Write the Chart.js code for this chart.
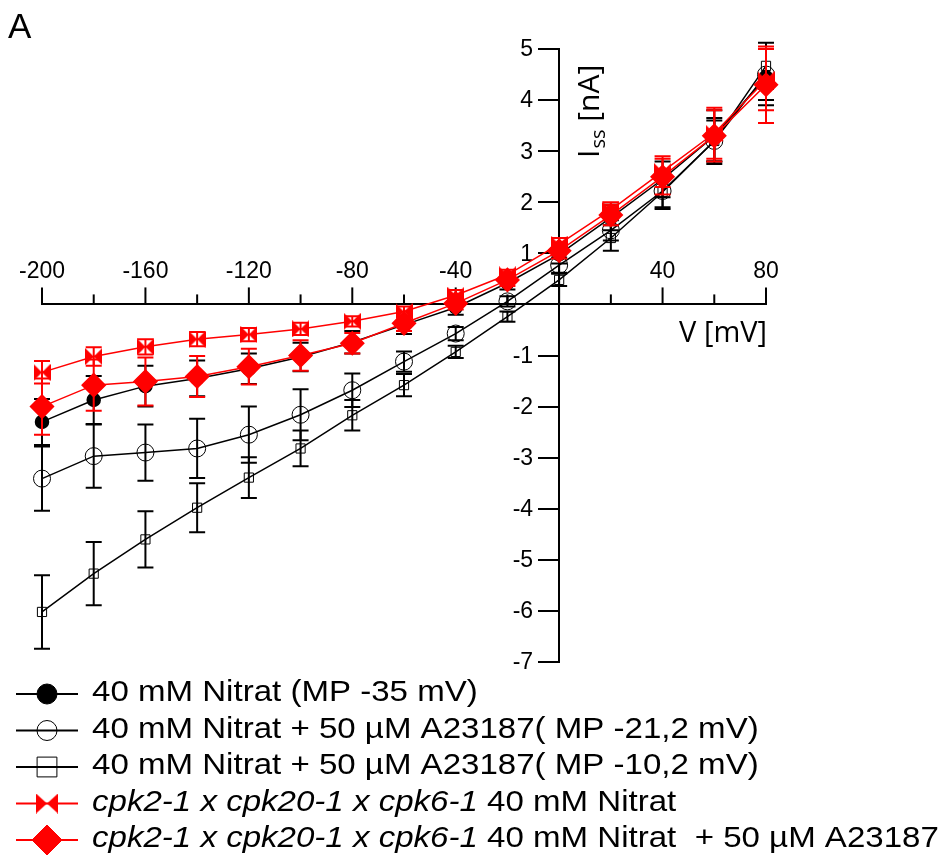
<!DOCTYPE html>
<html>
<head>
<meta charset="utf-8">
<title>Iss - V</title>
<script src="https://cdn.jsdelivr.net/npm/chart.js@4.4.0/dist/chart.umd.min.js"></script>
<style>
  html, body { margin: 0; padding: 0; background: #fff; }
</style>
</head>
<body>
<canvas id="ivChart" width="942" height="861"></canvas>
<script>
// membrane voltage steps [mV]
var voltages = [-200, -180, -160, -140, -120, -100, -80, -60, -40, -20, 0, 20, 40, 60, 80];

// steady state currents [nA] and their error
var nitrat       = [-2.3, -1.87, -1.6, -1.45, -1.26, -1.03, -0.74, -0.4, -0.06, 0.42, 0.98, 1.7, 2.45, 3.3, 4.45];
var nitratErr    = [0.45, 0.47, 0.4, 0.35, 0.3, 0.28, 0.22, 0.18, 0.14, 0.13, 0.18, 0.25, 0.35, 0.5, 0.55];
var nitratA21    = [-3.41, -2.97, -2.9, -2.82, -2.55, -2.16, -1.68, -1.12, -0.57, 0.06, 0.77, 1.45, 2.22, 3.2, 4.5];
var nitratA21Err = [0.63, 0.62, 0.55, 0.58, 0.55, 0.5, 0.33, 0.2, 0.13, 0.1, 0.15, 0.2, 0.35, 0.45, 0.5];
var nitratA10    = [-6.02, -5.27, -4.6, -3.98, -3.39, -2.82, -2.17, -1.58, -0.93, -0.24, 0.48, 1.3, 2.2, 3.2, 4.67];
var nitratA10Err = [0.72, 0.62, 0.55, 0.48, 0.4, 0.35, 0.3, 0.22, 0.12, 0.1, 0.12, 0.25, 0.3, 0.4, 0.45];
var cpk          = [-1.33, -1.02, -0.83, -0.68, -0.59, -0.48, -0.33, -0.14, 0.18, 0.58, 1.18, 1.85, 2.6, 3.35, 4.4];
var cpkErr       = [0.22, 0.18, 0.15, 0.14, 0.13, 0.12, 0.1, 0.1, 0.1, 0.1, 0.12, 0.15, 0.3, 0.5, 0.6];
var cpkA         = [-2.0, -1.58, -1.51, -1.41, -1.22, -1.0, -0.76, -0.37, 0.02, 0.48, 1.05, 1.75, 2.5, 3.3, 4.3];
var cpkAErr      = [0.55, 0.5, 0.47, 0.4, 0.35, 0.3, 0.2, 0.15, 0.12, 0.12, 0.15, 0.2, 0.35, 0.5, 0.75];

// labelled ticks
var xTickLabels = [-200, -160, -120, -80, -40, 40, 80];
var yTickLabels = [-7, -6, -5, -4, -3, -2, -1, 1, 2, 3, 4, 5];

var legendRows = [
  { it: '', txt: '40 mM Nitrat (MP -35 mV)' },
  { it: '', txt: '40 mM Nitrat + 50 \u00b5M A23187( MP -21,2 mV)' },
  { it: '', txt: '40 mM Nitrat + 50 \u00b5M A23187( MP -10,2 mV)' },
  { it: 'cpk2-1 x cpk20-1 x cpk6-1', txt: ' 40 mM Nitrat' },
  { it: 'cpk2-1 x cpk20-1 x cpk6-1', txt: ' 40 mM Nitrat  + 50 \u00b5M A23187' }
];

function pts(ys) {
  return voltages.map(function (v, i) { return { x: v, y: ys[i] }; });
}

function bowtie(w, h, color) {
  var c = document.createElement('canvas');
  c.width = w; c.height = h;
  var g = c.getContext('2d');
  g.fillStyle = color;
  g.beginPath();
  g.moveTo(0, 0); g.lineTo(w / 2, h / 2); g.lineTo(0, h); g.closePath();
  g.moveTo(w, 0); g.lineTo(w / 2, h / 2); g.lineTo(w, h); g.closePath();
  g.fill();
  return c;
}

var red = '#ff0000';
var bowPlot = bowtie(17, 17, red);
var bowLegend = bowtie(22, 20, red);

var datasets = [
  { data: pts(nitrat), errors: nitratErr, borderColor: '#000', backgroundColor: '#000',
    pointStyle: 'circle', pointRadius: 6.5, pointBackgroundColor: '#000', order: 2,
    legendMarker: { pointStyle: 'circle', radius: 10, fill: '#000' } },
  { data: pts(nitratA21), errors: nitratA21Err, borderColor: '#000', backgroundColor: 'rgba(0,0,0,0)',
    pointStyle: 'circle', pointRadius: 8.5, pointBorderWidth: 1, order: 3,
    legendMarker: { pointStyle: 'circle', radius: 10, fill: 'rgba(0,0,0,0)' } },
  { data: pts(nitratA10), errors: nitratA10Err, borderColor: '#000', backgroundColor: 'rgba(0,0,0,0)',
    pointStyle: 'rect', pointRadius: 6.5, pointBorderWidth: 1, order: 4,
    legendMarker: { pointStyle: 'rect', radius: 14, fill: 'rgba(0,0,0,0)' } },
  { data: pts(cpk), errors: cpkErr, borderColor: red, backgroundColor: red,
    pointStyle: bowPlot, pointRadius: 8, order: 1,
    legendMarker: { pointStyle: bowLegend, radius: 10, fill: red } },
  { data: pts(cpkA), errors: cpkAErr, borderColor: red, backgroundColor: red,
    pointStyle: 'rectRot', pointRadius: 11.5, order: 0,
    legendMarker: { pointStyle: 'rectRot', radius: 15, fill: red } }
];
datasets.forEach(function (d) {
  d.borderWidth = 1.5;
  d.tension = 0;
  d.fill = false;
  d.clip = false;
  d.pointHoverRadius = d.pointRadius;
});

var errorBars = {
  id: 'errorBars',
  beforeDatasetDraw: function (chart, args) {
    var ds = chart.data.datasets[args.index];
    var xs = chart.scales.x, ys = chart.scales.y, ctx = chart.ctx;
    ctx.save();
    ctx.strokeStyle = ds.borderColor;
    ctx.lineWidth = 2;
    ds.data.forEach(function (p, i) {
      var px = xs.getPixelForValue(p.x);
      var t = ys.getPixelForValue(p.y + ds.errors[i]);
      var b = ys.getPixelForValue(p.y - ds.errors[i]);
      ctx.beginPath();
      ctx.moveTo(px, t); ctx.lineTo(px, b);
      ctx.moveTo(px - 8, t); ctx.lineTo(px + 8, t);
      ctx.moveTo(px - 8, b); ctx.lineTo(px + 8, b);
      ctx.stroke();
    });
    ctx.restore();
  }
};

// stretched text, the original lettering is wider than Arial
function wideText(ctx, s, x, y, sx) {
  ctx.save();
  ctx.translate(x, y);
  ctx.scale(sx, 1);
  ctx.fillText(s, 0, 0);
  ctx.restore();
  return ctx.measureText(s).width * sx;
}

var axisDecor = {
  id: 'axisDecor',
  beforeDatasetsDraw: function (chart) {
    var xs = chart.scales.x, ys = chart.scales.y, ctx = chart.ctx;
    var y0 = ys.getPixelForValue(0);
    var x0 = xs.getPixelForValue(0);
    ctx.save();
    ctx.strokeStyle = '#000';
    ctx.lineWidth = 2;
    // x tick marks point up from the axis, labelled ones longer
    xs.ticks.forEach(function (t) {
      var px = xs.getPixelForValue(t.value);
      var len = xTickLabels.indexOf(t.value) >= 0 || t.value === 0 ? 17 : 10;
      ctx.beginPath(); ctx.moveTo(px, y0); ctx.lineTo(px, y0 - len); ctx.stroke();
    });
    // y labels left of the tick marks
    ctx.fillStyle = '#000';
    ctx.font = '23px "Liberation Sans", Arial, sans-serif';
    ctx.textAlign = 'right';
    ctx.textBaseline = 'middle';
    yTickLabels.forEach(function (v) {
      ctx.fillText(String(v), x0 - 26, ys.getPixelForValue(v) + 1);
    });
    ctx.restore();
  },
  afterDraw: function (chart) {
    var ctx = chart.ctx;
    ctx.save();
    ctx.fillStyle = '#000';
    ctx.textBaseline = 'alphabetic';
    ctx.font = '35px "Liberation Sans", Arial, sans-serif';
    ctx.fillText('A', 8, 38);

    ctx.font = '29px "Open Sans", sans-serif';
    ctx.textAlign = 'right';
    ctx.fillText('V [mV]', 767, 342);

    // I_ss [nA], rotated
    ctx.translate(599, 158);
    ctx.rotate(-Math.PI / 2);
    ctx.textAlign = 'left';
    ctx.font = '30px "Open Sans", sans-serif';
    ctx.fillText('I', 0, 0);
    var w = ctx.measureText('I').width;
    ctx.font = '20px "Open Sans", sans-serif';
    ctx.fillText('ss', w + 1, 6);
    w += ctx.measureText('ss').width + 1;
    ctx.font = '30px "Open Sans", sans-serif';
    ctx.fillText(' [nA]', w, 0);
    ctx.restore();

    // legend
    ctx.save();
    var rowY = 694, step = 36.5, sx = 1.102;
    chart.data.datasets.forEach(function (ds, i) {
      var y = rowY + i * step;
      var m = ds.legendMarker;
      ctx.strokeStyle = ds.borderColor;
      ctx.lineWidth = 2;
      ctx.beginPath(); ctx.moveTo(16, y); ctx.lineTo(78, y); ctx.stroke();
      ctx.fillStyle = m.fill;
      ctx.lineWidth = 1;
      Chart.helpers.drawPoint(ctx, { pointStyle: m.pointStyle, radius: m.radius, borderWidth: 1, rotation: 0 }, 47, y);
      ctx.fillStyle = '#000';
      ctx.textAlign = 'left';
      ctx.textBaseline = 'middle';
      var x = 92;
      var row = legendRows[i];
      if (row.it) {
        ctx.font = 'italic 30px "Liberation Sans", Arial, sans-serif';
        x += wideText(ctx, row.it, x, y - 1, sx);
      }
      ctx.font = '30px "Liberation Sans", Arial, sans-serif';
      wideText(ctx, row.txt, x, y - 1, sx);
    });
    ctx.restore();
  }
};

var ctx = document.getElementById('ivChart').getContext('2d');
var ivChart = new Chart(ctx, {
  type: 'line',
  data: { datasets: datasets },
  plugins: [errorBars, axisDecor],
  options: {
    responsive: false,
    animation: false,
    layout: { padding: { left: 42, right: 176, top: 49, bottom: 199 } },
    plugins: { legend: { display: false }, tooltip: { enabled: false } },
    scales: {
      x: {
        type: 'linear',
        min: -200, max: 80,
        position: { y: 0 },
        afterFit: function (s) { s.height = 0; },
        grid: { drawOnChartArea: false, drawTicks: false },
        border: { color: '#000', width: 2 },
        ticks: {
          stepSize: 20, autoSkip: false, maxRotation: 0, padding: -47,
          color: '#000', font: { family: '"Liberation Sans", Arial, sans-serif', size: 23 },
          callback: function (v) { return xTickLabels.indexOf(v) >= 0 ? String(v) : ''; }
        }
      },
      y: {
        type: 'linear',
        min: -7, max: 5,
        position: { x: 0 },
        afterFit: function (s) { s.width = 0; },
        grid: { drawOnChartArea: false, drawTicks: true, tickLength: 20, color: '#000', lineWidth: 2 },
        border: { color: '#000', width: 2 },
        ticks: { stepSize: 1, display: false }
      }
    }
  }
});
</script>
</body>
</html>
